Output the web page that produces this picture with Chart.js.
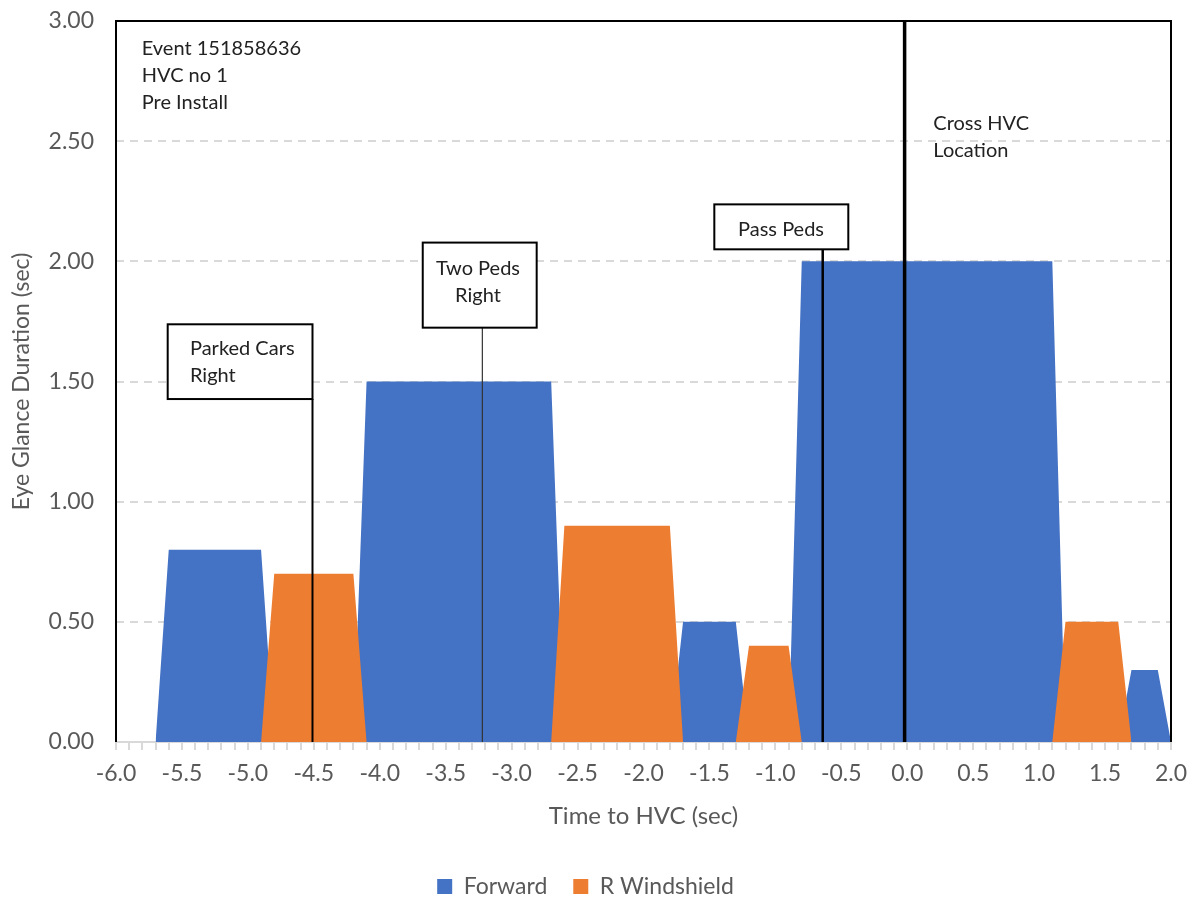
<!DOCTYPE html>
<html>
<head>
<meta charset="utf-8">
<script src="https://cdn.jsdelivr.net/npm/chart.js@4.4.1/dist/chart.umd.min.js"></script>
<style>
  html, body { margin: 0; padding: 0; background: #fff; }
</style>
</head>
<body>
<canvas id="glanceChart" width="1195" height="898"></canvas>
<script>
// Glance data: time to HVC (sec) and glance duration (sec)
const forwardTime = [-5.7, -5.6, -4.9, -4.8, -4.2, -4.1, -2.7, -2.6, -1.8, -1.7, -1.3, -1.2, -0.9, -0.8, 1.1, 1.2, 1.6, 1.7, 1.9, 2.0];
const forwardDur  = [0, 0.8, 0.8, 0, 0, 1.5, 1.5, 0, 0, 0.5, 0.5, 0, 0, 2.0, 2.0, 0, 0, 0.3, 0.3, 0];
const windshieldTime = [-4.9, -4.8, -4.2, -4.1, -2.7, -2.6, -1.8, -1.7, -1.3, -1.2, -0.9, -0.8, 1.1, 1.2, 1.6, 1.7];
const windshieldDur  = [0, 0.7, 0.7, 0, 0, 0.9, 0.9, 0, 0, 0.4, 0.4, 0, 0, 0.5, 0.5, 0];

const seriesNames = ['Forward', 'R Windshield'];
const xMin = -6.0, xMax = 2.0, xStep = 0.1, xLabelEvery = 0.5;
const yMin = 0, yMax = 3.0, yStep = 0.5;

// Event markers (time to HVC)
const eventTimes = [-4.51, -3.222, -0.641, -0.02];
const eventText = [['Parked Cars', 'Right'], ['Two Peds', 'Right'], ['Pass Peds'], ['Cross HVC', 'Location']];
const infoText = ['Event 151858636', 'HVC no 1', 'Pre Install'];

const FONT = 'Lato, "Open Sans", sans-serif';
const GREY = '#595959';

// callout placement, in axis units
const callouts = [
  { box: [-5.608, -4.51, 1.738, 1.427], align: 'left', tx: -5.439, ty: [1.610, 1.499], lw: 2, color: '#000' },
  { box: [-3.674, -2.81, 2.078, 1.724], align: 'center', tx: -3.255, ty: [1.943, 1.832], lw: 1.2, color: '#333' },
  { box: [-1.463, -0.447, 2.237, 2.050], align: 'center', tx: -0.957, ty: [2.107], lw: 2.5, color: '#000' },
  { box: null, align: 'left', tx: 0.198, ty: [2.546, 2.435], lw: 3.5, color: '#000' }
];
const infoPos = { tx: -5.805, ty: [2.859, 2.748, 2.634] };

const toPoints = (xs, ys) => xs.map((t, i) => ({ x: t, y: ys[i] }));

const calloutPlugin = {
  id: 'callouts',
  afterDatasetsDraw(chart) {
    const { ctx, chartArea: a, scales: { x, y } } = chart;
    ctx.save();
    // plot frame
    ctx.strokeStyle = '#000';
    ctx.lineWidth = 2;
    ctx.beginPath();
    ctx.moveTo(a.left, a.bottom);
    ctx.lineTo(a.left, a.top);
    ctx.lineTo(a.right, a.top);
    ctx.lineTo(a.right, a.bottom);
    ctx.stroke();

    ctx.font = '20px ' + FONT;
    ctx.textBaseline = 'alphabetic';
    callouts.forEach((c, i) => {
      const px = x.getPixelForValue(eventTimes[i]);
      let top = a.top;
      if (c.box) top = y.getPixelForValue(c.box[3]);
      ctx.strokeStyle = c.color;
      ctx.lineWidth = c.lw;
      ctx.beginPath();
      ctx.moveTo(px, top);
      ctx.lineTo(px, a.bottom);
      ctx.stroke();
      if (c.box) {
        const l = x.getPixelForValue(c.box[0]), r = x.getPixelForValue(c.box[1]);
        const t = y.getPixelForValue(c.box[2]), b = y.getPixelForValue(c.box[3]);
        ctx.fillStyle = '#fff';
        ctx.fillRect(l, t, r - l, b - t);
        ctx.strokeStyle = '#000';
        ctx.lineWidth = 2;
        ctx.strokeRect(l, t, r - l, b - t);
      }
      ctx.fillStyle = '#222';
      ctx.textAlign = c.align;
      eventText[i].forEach((line, k) => {
        ctx.fillText(line, x.getPixelForValue(c.tx), y.getPixelForValue(c.ty[k]));
      });
    });

    ctx.textAlign = 'left';
    infoText.forEach((line, k) => {
      ctx.fillText(line, x.getPixelForValue(infoPos.tx), y.getPixelForValue(infoPos.ty[k]));
    });
    ctx.restore();
  }
};

new Chart(document.getElementById('glanceChart'), {
  type: 'line',
  data: {
    datasets: [
      {
        label: seriesNames[0],
        data: toPoints(forwardTime, forwardDur),
        backgroundColor: '#4472C4',
        borderColor: 'rgba(0,0,0,0)',
        borderWidth: 0,
        fill: 'origin',
        pointRadius: 0,
        tension: 0,
        order: 1
      },
      {
        label: seriesNames[1],
        data: toPoints(windshieldTime, windshieldDur),
        backgroundColor: '#ED7D31',
        borderColor: 'rgba(0,0,0,0)',
        borderWidth: 0,
        fill: 'origin',
        pointRadius: 0,
        tension: 0,
        order: 0
      }
    ]
  },
  options: {
    responsive: false,
    animation: false,
    layout: { padding: { top: 21, right: 24, left: 0, bottom: -10 } },
    scales: {
      x: {
        type: 'linear',
        min: xMin,
        max: xMax,
        afterFit: s => { s.height = 107; s.paddingRight = 0; },
        ticks: {
          stepSize: xStep,
          autoSkip: false,
          maxRotation: 0,
          minRotation: 0,
          color: GREY,
          font: { family: FONT, size: 23 },
          padding: 10,
          callback: v => {
            const k = Math.round(v * 10);
            return k % Math.round(xLabelEvery * 10) === 0 ? (k / 10).toFixed(1) : '';
          }
        },
        grid: { drawOnChartArea: false, drawTicks: true, tickLength: 8, color: '#d9d9d9', lineWidth: 2 },
        border: { display: true, color: '#d9d9d9', width: 2 },
        title: {
          display: true,
          text: 'Time to HVC (sec)',
          color: GREY,
          font: { family: FONT, size: 24 },
          padding: { top: 18, bottom: 18 }
        }
      },
      y: {
        min: yMin,
        max: yMax,
        afterFit: s => { s.width = 116; },
        ticks: {
          stepSize: yStep,
          color: GREY,
          font: { family: FONT, size: 23 },
          padding: 3,
          callback: v => v.toFixed(2)
        },
        grid: {
          drawTicks: true,
          tickLength: 19,
          tickColor: 'rgba(0,0,0,0)',
          lineWidth: 2,
          color: c => (c.tick && c.tick.value > yMin && c.tick.value < yMax) ? '#d9d9d9' : 'rgba(0,0,0,0)'
        },
        border: { display: false, dash: [8, 6] },
        title: {
          display: true,
          text: 'Eye Glance Duration (sec)',
          color: GREY,
          font: { family: FONT, size: 23 },
          padding: { top: 8, bottom: 0 }
        }
      }
    },
    plugins: {
      legend: {
        position: 'bottom',
        labels: {
          color: GREY,
          font: { family: FONT, size: 23 },
          boxWidth: 15,
          boxHeight: 15,
          padding: 26,
          sort: (a, b) => a.datasetIndex - b.datasetIndex
        }
      },
      tooltip: { enabled: false }
    }
  },
  plugins: [calloutPlugin]
});
</script>
</body>
</html>
